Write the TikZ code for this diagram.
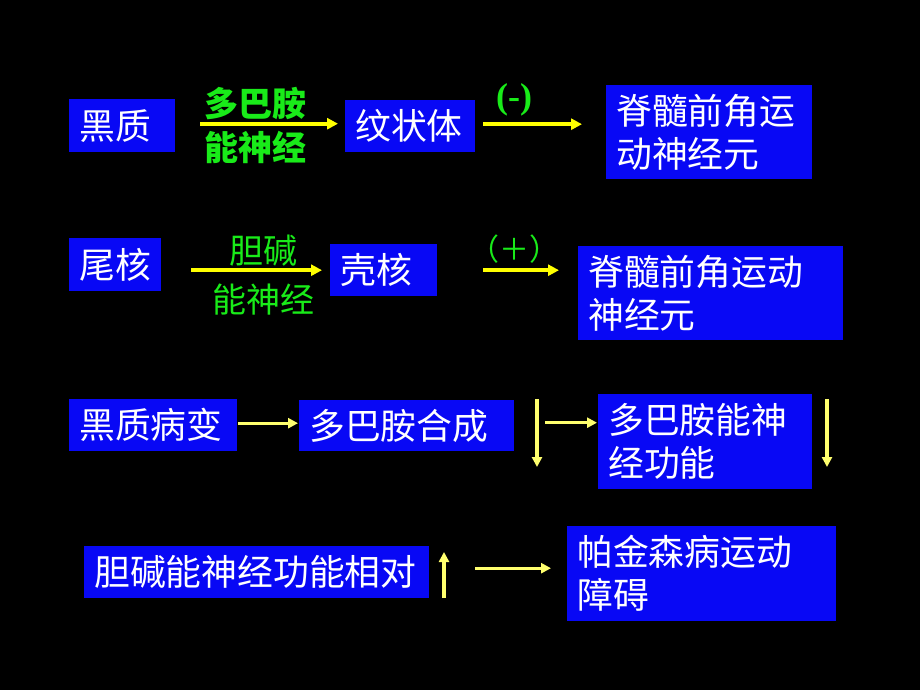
\documentclass[tikz,border=0pt]{standalone}
\usepackage{fontspec}
\newfontfamily\cjk{Noto Sans CJK SC}
\newfontfamily\latinb{Liberation Serif}
\usetikzlibrary{arrows.meta}
\definecolor{boxblue}{RGB}{8,8,245}
\definecolor{labgreen}{RGB}{25,235,25}
\definecolor{arrY}{RGB}{255,255,0}
\definecolor{arrYp}{RGB}{255,255,110}
\tikzset{
  box/.style 2 args={fill=boxblue, text=white, font=\cjk\fontsize{35.8}{43}\selectfont,
    anchor=north west, inner xsep=10pt, inner ysep=0pt, align=left,
    text width=#1, minimum height=#2},
  lab/.style={text=labgreen, font=\cjk\bfseries\fontsize{34}{40}\selectfont, inner sep=0pt},
  arrA/.style={draw=arrY, line width=3.6pt, -{Triangle[length=11pt,width=11pt]}},
  arrB/.style={draw=arrYp, line width=3.1pt, -{Triangle[length=10pt,width=10pt]}}
}
\begin{document}
\begin{tikzpicture}[x=1pt,y=1pt]
\useasboundingbox[fill=black] (0,0) rectangle (920,-690);
% row 1
\node[box={86pt}{53pt}] (hz) at (69,-99) {黑质};
\node[box={110pt}{52pt}] (wzt) at (345,-100) {纹状体};
\node[box={186pt}{94pt}] (js1) at (606,-85) {脊髓前角运\\动神经元};
\node[lab] (l1a) at (255,-104) {多巴胺};
\node[lab] (l1b) at (255,-147) {能神经};
\node[text=labgreen, font=\latinb\bfseries\fontsize{36}{40}\selectfont, inner sep=0pt] (m1) at (514,-100) {(-)};
\draw[arrA, shorten <=25pt, shorten >=7pt] ([yshift=2pt]hz.east) -- ([yshift=2pt]hz.east -| wzt.west);
\draw[arrA, shorten <=8pt, shorten >=24pt] ([yshift=2pt]wzt.east) -- ([yshift=2pt]wzt.east -| js1.west);
% row 2
\node[box={72pt}{53pt}] (wh) at (69,-238) {尾核};
\node[box={87pt}{52pt}] (kh) at (330,-244) {壳核};
\node[box={245pt}{94pt}] (js2) at (578,-246) {脊髓前角运动\\神经元};
\node[lab, font=\cjk\fontsize{34}{40}\selectfont] (l2a) at (263,-251) {胆碱};
\node[lab, font=\cjk\fontsize{34}{40}\selectfont] (l2b) at (263,-300) {能神经};
\node[text=labgreen, font=\cjk\fontsize{30}{36}\selectfont, inner sep=0pt] (p2) at (514,-249) {（＋）};
\draw[arrA, shorten <=30pt, shorten >=8pt] (kh.west -| wh.east) -- (kh.west);
\draw[arrA, shorten <=46pt, shorten >=19pt] (kh.east) -- (kh.east -| js2.west);
% row 3
\node[box={148pt}{52pt}] (hzb) at (69,-399) {黑质病变};
\node[box={195pt}{51pt}] (dbh) at (299,-400) {多巴胺合成};
\node[box={194pt}{95pt}] (dbn) at (598,-394) {多巴胺能神\\经功能};
\draw[arrB, shorten <=1pt, shorten >=1pt] ([yshift=2pt]hzb.east) -- ([yshift=2pt]hzb.east -| dbh.west);
\draw[arrB, shorten <=31pt, shorten >=1pt] ([yshift=3pt]dbh.east) -- ([yshift=3pt]dbh.east -| dbn.west);
\coordinate (d1a) at (537,-399);
\coordinate (d1b) at (537,-467);
\coordinate (d2a) at (827,-399);
\coordinate (d2b) at (827,-467);
\draw[arrB] (d1a) -- (d1b);
\draw[arrB] (d2a) -- (d2b);
% row 4
\node[box={325pt}{52pt}] (jh) at (84,-546) {胆碱能神经功能相对};
\node[box={249pt}{95pt}] (pj) at (567,-526) {帕金森病运动\\障碍};
\coordinate (u1a) at (444,-598);
\coordinate (u1b) at (444,-552);
\draw[arrB] (u1a) -- (u1b);
\draw[arrB, shorten <=46pt, shorten >=16pt] ([yshift=4pt]jh.east) -- ([yshift=4pt]jh.east -| pj.west);
\end{tikzpicture}
\end{document}
